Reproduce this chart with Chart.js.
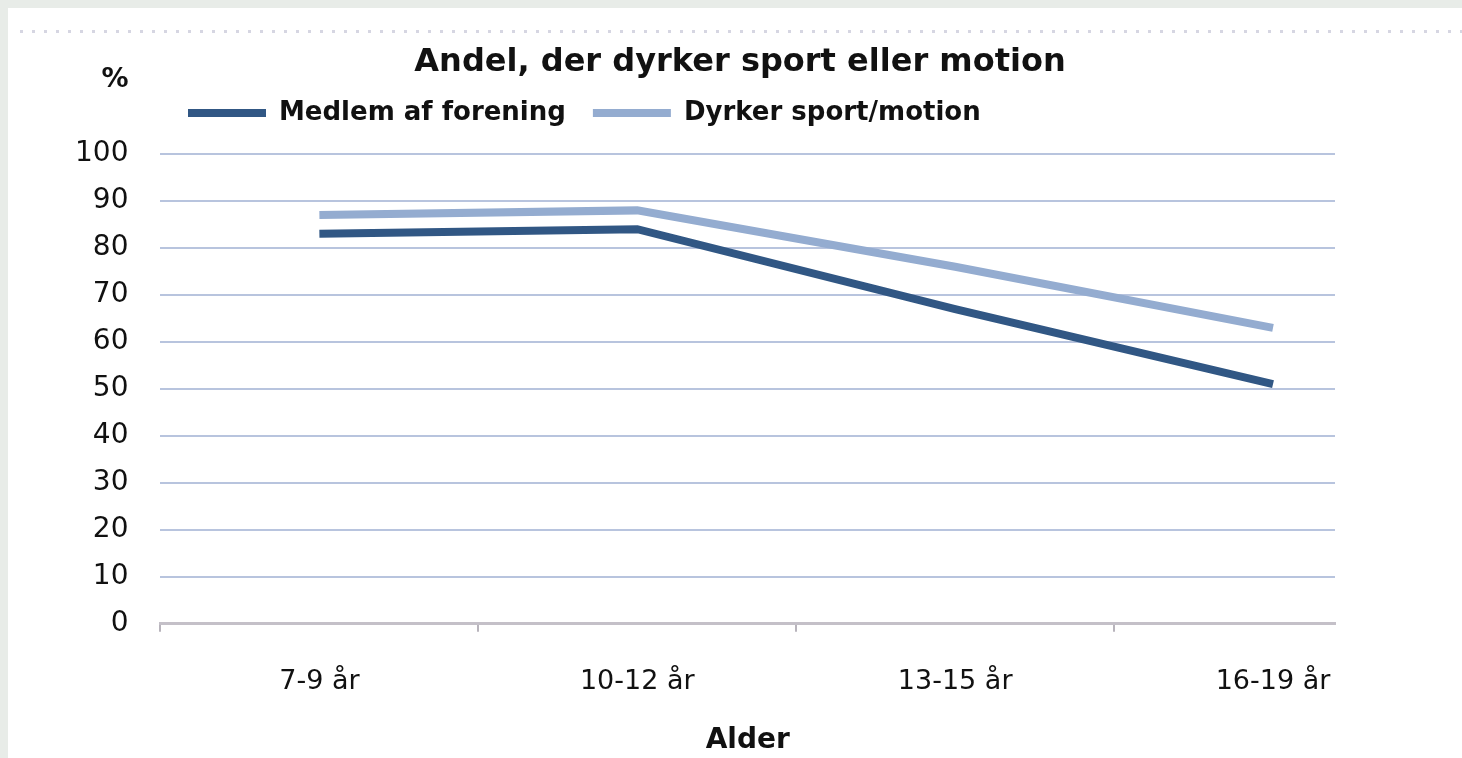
<!DOCTYPE html>
<html>
<head>
<meta charset="utf-8">
<script src="https://cdn.jsdelivr.net/npm/chart.js@4.4.1/dist/chart.umd.min.js"></script>
<style>
html, body { margin: 0; padding: 0; background: #e8ece8; }
#frame { position: absolute; left: 8px; top: 8px; width: 1454px; height: 750px; background: #fff; overflow: hidden; }
#dots { position: absolute; left: 12px; top: 22px; right: 0; height: 3px;
  background-image: repeating-linear-gradient(to right, #d6d6e2 0 3px, transparent 3px 12px); }
#box { position: absolute; left: 0; top: 0; width: 1454px; height: 750px; }
</style>
</head>
<body>
<div id="frame">
  <div id="dots"></div>
  <div id="box"><canvas id="chart"></canvas></div>
</div>
<script>
// data
var ageGroups = ["7-9 år", "10-12 år", "13-15 år", "16-19 år"];
var medlemAfForening = [83, 84, 67, 51];
var dyrkerSport = [87, 88, 76, 63];
var yMin = 0, yMax = 100, yStep = 10;

function toPoints(values) {
  return values.map(function (v, i) { return { x: i, y: v }; });
}

Chart.defaults.font.family = "'DejaVu Sans', sans-serif";
Chart.defaults.color = "#111";

var tweaks = {
  id: 'tweaks',
  afterLayout: function (chart) {
    var t = chart.titleBlock, l = chart.legend;
    t.left += 51; t.right += 51;
    l.left += 118; l.right += 118;
    l.top -= 18; l.bottom -= 18;
  },
  afterDraw: function (chart) {
    var ctx = chart.ctx, ys = chart.scales.y;
    ctx.save();
    ctx.font = "bold 27px 'DejaVu Sans', sans-serif";
    ctx.fillStyle = "#111";
    ctx.textAlign = "right";
    ctx.textBaseline = "middle";
    ctx.fillText("%", ys.right - 32, ys.top - 74);
    ctx.restore();
  }
};

var ctx = document.getElementById("chart");
var chartGraph = new Chart(ctx, {
  type: 'line',
  data: {
    datasets: [
      {
        label: "Medlem af forening",
        data: toPoints(medlemAfForening),
        borderColor: "#315784",
        backgroundColor: "#315784",
        borderWidth: 8
      }, {
        label: "Dyrker sport/motion",
        data: toPoints(dyrkerSport),
        borderColor: "#94acd0",
        backgroundColor: "#94acd0",
        borderWidth: 8
      }]
  },
  plugins: [tweaks],
  options: {
    responsive: true,
    maintainAspectRatio: false,
    animation: false,
    layout: { padding: { left: 35, right: 127, top: 0, bottom: 9 } },
    elements: { point: { radius: 0, hoverRadius: 0 }, line: { tension: 0, borderCapStyle: 'butt' } },
    plugins: {
      tooltip: { enabled: false },
      title: {
        display: true,
        text: "Andel, der dyrker sport eller motion",
        font: { size: 32, weight: 'bold', lineHeight: 1.0 },
        color: "#111",
        padding: { top: 39, bottom: 12 }
      },
      legend: {
        display: true,
        align: 'start',
        labels: {
          boxWidth: 78,
          boxHeight: 8,
          padding: 27,
          font: { size: 26, weight: 'bold' },
          color: "#111",
          generateLabels: function (chart) {
            var items = Chart.defaults.plugins.legend.labels.generateLabels(chart);
            items.forEach(function (it) { it.lineWidth = 0; });
            return items;
          }
        }
      }
    },
    scales: {
      x: {
        type: 'linear',
        min: -0.5,
        max: 3.195,
        afterBuildTicks: function (scale) {
          scale.ticks = ageGroups.map(function (g, i) { return { value: i }; });
        },
        ticks: {
          font: { size: 27 },
          color: "#111",
          padding: 34,
          maxRotation: 0,
          autoSkip: false,
          callback: function (v) { return ageGroups[v]; }
        },
        grid: { offset: true, drawOnChartArea: false, drawTicks: true, tickLength: 8, color: "#b8b4bc", lineWidth: 2 },
        border: { color: "#c4c0c8", width: 3 },
        title: { display: true, text: "Alder", font: { size: 28, weight: 'bold', lineHeight: 0.6 }, color: "#111", padding: 0 }
      },
      y: {
        min: yMin,
        max: yMax,
        ticks: { stepSize: yStep, font: { size: 28 }, color: "#111", padding: 32 },
        grid: {
          drawTicks: false,
          lineWidth: 2,
          color: function (c) { return c.tick && c.tick.value === 0 ? "#c4c0c8" : "#b8c4de"; }
        },
        border: { display: false }
      }
    }
  }
});
</script>
</body>
</html>
